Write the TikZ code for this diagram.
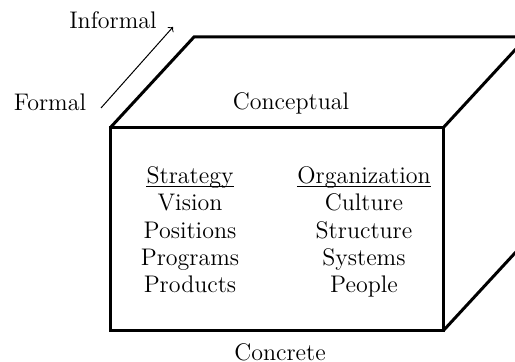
\documentclass[tikz,border=0pt]{standalone}
\begin{document}
\begin{tikzpicture}[x=0.5pt,y=-0.5pt]
            \tikzset{
                face/.style={line width=1.5pt, line join=miter},
                word/.style={font=\fontsize{12}{14}\selectfont, inner sep=0pt},
                entry/.style={word, anchor=base},
                dir/.style={->, line width=0.5pt},
                rule/.style={line width=0.5pt}
            }
            \clip (0,0) rectangle (515,362);
            % cube corners
            \coordinate (ftl) at (110,128);
            \coordinate (ftr) at (443,128);
            \coordinate (fbr) at (443,331);
            \coordinate (fbl) at (110,331);
            \coordinate (btl) at (194,37);
            \coordinate (btr) at (527,37);
            \coordinate (bbr) at (527,240);
            \draw[face] (ftl) rectangle (fbr);
            \draw[face] (ftl) -- (btl) -- (btr) -- (ftr);
            \draw[face] (btr) -- (bbr) -- (fbr);
            % axis labels
            \draw node[word] (formal) at (50,102) {Formal};
            \draw node[word] (informal) at (113,20) {Informal};
            \coordinate (from) at (101,108);
            \coordinate (to) at (173,27);
            \draw[dir] (from) -- (to);
            \draw node[word] (concept) at (291,103) {Conceptual};
            \draw node[word] (concrete) at (280,352) {Concrete};
            % columns
            \draw node[entry] (strat) at (190,184) {Strategy};
            \draw node[entry] (org) at (364,184) {Organization};
            \foreach \h in {strat, org}{
                \draw[rule] ([yshift=-1.2pt]\h.base west) -- ([yshift=-1.2pt]\h.base east);
            }
            \foreach \n/\y/\l/\r in {%
            1/211/Vision/Culture, 2/239/Positions/Structure, 3/266/Programs/Systems, 4/293/Products/People%
            }{
                \draw node[entry] (s\n) at (190,\y) {\l};
                \draw node[entry] (o\n) at (364,\y) {\r};
            }
        \end{tikzpicture}
\end{document}
